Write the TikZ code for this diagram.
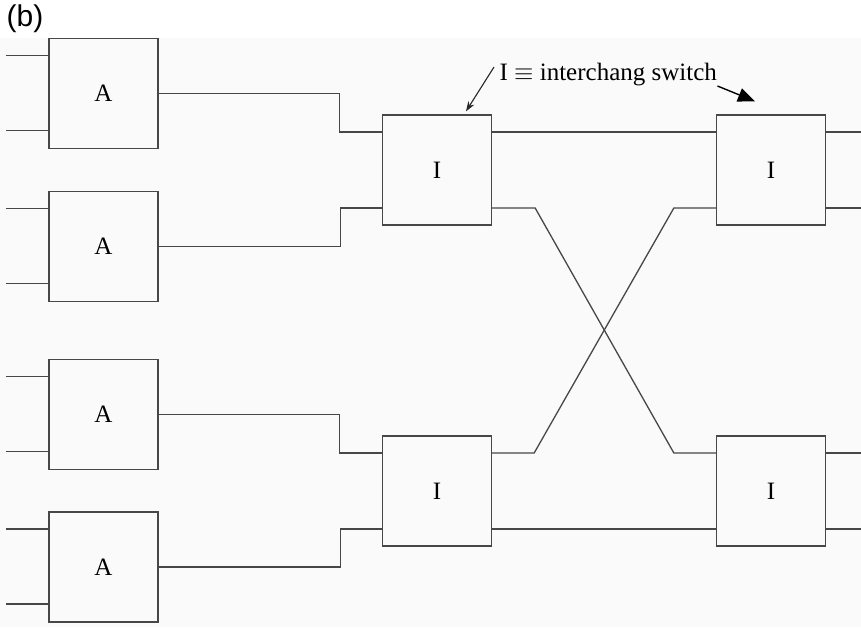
\documentclass[tikz,border=0pt]{standalone}
\usepackage{fontspec}
\setmainfont{Liberation Serif}
\newfontfamily\labfont{Liberation Sans}
\usepackage{tikz}
\usetikzlibrary{arrows.meta}

\begin{document}
\begin{tikzpicture}[x=1pt, y=-1pt, line width=1.3pt, draw=black!72,
	blk/.style={draw=black!72, minimum width=109pt, minimum height=110pt, inner sep=0pt},
	every node/.style={font=\fontsize{25}{29}\selectfont}]
	\useasboundingbox (0,0) rectangle (861,627);
	\fill[black!2] (0,38) rectangle (861,627);
	\node[font=\labfont\fontsize{30}{34}\selectfont, anchor=north west, inner sep=0pt] (tag) at (6,4) {(b)};
	% A stage
	\node[blk] (a1) at (103.5,93.5) {A};
	\node[blk] (a2) at (103.5,246.5) {A};
	\node[blk] (a3) at (103.5,414.5) {A};
	\node[blk] (a4) at (103.5,567) {A};
	% interchange switches
	\node[blk] (i1) at (437,170) {I};
	\node[blk] (i2) at (437,491) {I};
	\node[blk] (i3) at (771,170) {I};
	\node[blk] (i4) at (771,491) {I};
	\foreach \b in {a1,a2,a3,a4} {
		\draw ([yshift=38pt]\b.west) -- ++(-42,0);
		\draw ([yshift=-37pt]\b.west) -- ++(-42,0);
	}
	\foreach \b in {i3,i4} {
		\draw ([yshift=38pt]\b.east) -- ++(36,0);
		\draw ([yshift=-38pt]\b.east) -- ++(36,0);
	}
	\draw (a1.east) -- ++(181,0) |- ([yshift=38pt]i1.west);
	\draw (a2.east) -- ++(182,0) |- ([yshift=-38pt]i1.west);
	\draw (a3.east) -- ++(181,0) |- ([yshift=38pt]i2.west);
	\draw (a4.east) -- ++(182,0) |- ([yshift=-38pt]i2.west);
	\draw ([yshift=38pt]i1.east) -- ([yshift=38pt]i3.west);
	\draw ([yshift=-38pt]i2.east) -- ([yshift=-38pt]i4.west);
	\draw ([yshift=-38pt]i1.east) -- ++(43,0) -- ([xshift=-42pt,yshift=38pt]i4.west) -- ([yshift=38pt]i4.west);
	\draw ([yshift=38pt]i2.east) -- ++(42,0) -- ([xshift=-42pt,yshift=-38pt]i3.west) -- ([yshift=-38pt]i3.west);
	% legend
	\node[anchor=base west, inner sep=0pt] (key) at (499,80) {I $\equiv$ interchang switch};
	\draw[black!85, line width=1.1pt, -{Stealth[length=10pt, width=7pt]}] ([xshift=-5pt,yshift=-5pt]key.north west) -- ([xshift=29pt,yshift=3pt]i1.north);
	\draw[black, line width=1.4pt, -{Triangle[length=17pt, width=14pt]}] ([yshift=-6pt]key.base east) -- ([xshift=-16pt,yshift=13pt]i3.north);
\end{tikzpicture}
\end{document}
